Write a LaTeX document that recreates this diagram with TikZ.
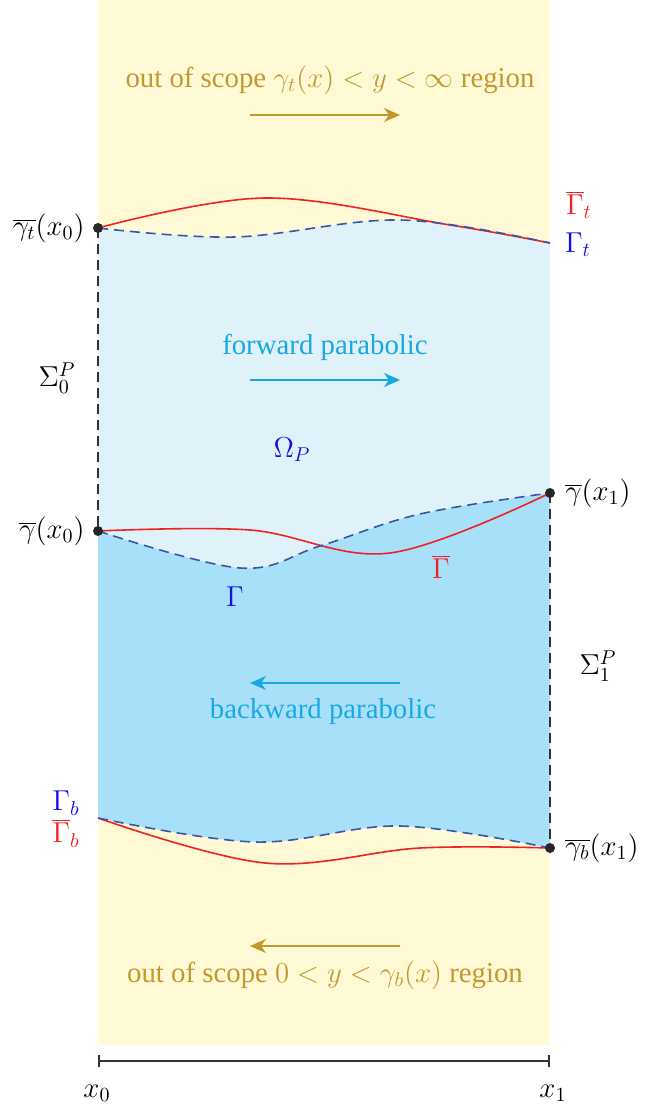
\documentclass[tikz,border=0pt]{standalone}
\usepackage{xcolor}
\usepackage{fontspec}
\setmainfont{Liberation Serif}
\usepackage{tikz}
\usetikzlibrary{arrows.meta}

\definecolor{scopeyellow}{HTML}{FFF9D5}
\definecolor{scopegold}{HTML}{C09A2C}
\definecolor{fwdblue}{HTML}{DFF2FA}
\definecolor{bwdblue}{HTML}{A8E0F9}
\definecolor{flowcyan}{HTML}{1AA8E3}
\definecolor{curveblue}{HTML}{3A55A5}
\definecolor{labelblue}{HTML}{1010EE}
\definecolor{curvered}{HTML}{EE2222}

\begin{document}
\begin{tikzpicture}[
        x=0.5pt, y=-0.5pt,
        font=\fontsize{14.4}{17}\selectfont,
        every node/.style={inner sep=1pt},
        dot/.style={circle, fill=black!85, inner sep=0pt, minimum size=5pt},
        bound/.style={dashed, thick, curveblue, dash pattern=on 5pt off 3pt},
        truebound/.style={thick, curvered},
        side/.style={dashed, thick, black!80, dash pattern=on 5pt off 3pt},
        flow/.style={-{Stealth[length=8pt, width=7pt, inset=2.5pt]}, thick},
    ]

        % background and bounding box
        \useasboundingbox (0,0) rectangle (648,1111);
        \fill[scopeyellow] (98,0) rectangle (550,1045);

        % end points of the boundary curves
        \coordinate (gtx0) at (98,228);
        \coordinate (gtx1) at (550,243);
        \coordinate (gx0) at (98,531);
        \coordinate (gx1) at (550,493);
        \coordinate (gbx0) at (98,818);
        \coordinate (gbx1) at (550,848);

        % regions
        \fill[fwdblue] plot[smooth, tension=0.6] coordinates {(gtx0) (235,237) (400,220) (gtx1)}
            -- (gx1) -- plot[smooth, tension=0.6] coordinates {(gx1) (420,514) (320,546) (240,568) (gx0)} -- cycle;
        \fill[bwdblue] plot[smooth, tension=0.6] coordinates {(gx0) (240,568) (320,546) (420,514) (gx1)}
            -- (gbx1) -- plot[smooth, tension=0.6] coordinates {(gbx1) (400,826) (255,842) (gbx0)} -- cycle;

        % curves
        \draw[truebound] plot[smooth, tension=0.6] coordinates {(gtx0) (265,198) (450,225) (gtx1)};
        \draw[bound] plot[smooth, tension=0.6] coordinates {(gtx0) (235,237) (400,220) (gtx1)};

        \draw[truebound] plot[smooth, tension=0.6] coordinates {(gx0) (250,530) (390,553) (gx1)};
        \draw[bound] plot[smooth, tension=0.6] coordinates {(gx0) (240,568) (320,546) (420,514) (gx1)};

        \draw[truebound] plot[smooth, tension=0.6] coordinates {(gbx0) (265,863) (420,848) (gbx1)};
        \draw[bound] plot[smooth, tension=0.6] coordinates {(gbx0) (255,842) (400,826) (gbx1)};

        \draw[side] (gtx0) -- (gx0);
        \draw[side] (gx1) -- (gbx1);

        \node[dot] at (gtx0) {};
        \node[dot] at (gx0) {};
        \node[dot] at (gx1) {};
        \node[dot] at (gbx1) {};

        % texts in the regions
        \node[scopegold] (TopScope) at (330,80) {out of scope $\gamma_t(x) < y < \infty$ region};
        \coordinate (TopA) at (250,115);
        \coordinate (TopB) at (400,115);
        \draw[flow, scopegold] (TopA) -- (TopB);

        \node[flowcyan] (Fwd) at (325,347) {forward parabolic};
        \coordinate (FwdA) at (250,380);
        \coordinate (FwdB) at (400,380);
        \draw[flow, flowcyan] (FwdA) -- (FwdB);

        \node[labelblue] (Omega) at (292,450) {$\Omega_P$};

        \coordinate (BwdA) at (400,683);
        \coordinate (BwdB) at (250,683);
        \draw[flow, flowcyan] (BwdA) -- (BwdB);
        \node[flowcyan] (Bwd) at (323,712) {backward parabolic};

        \coordinate (BotA) at (400,946);
        \coordinate (BotB) at (250,946);
        \draw[flow, scopegold] (BotA) -- (BotB);
        \node[scopegold] (BotScope) at (325,975) {out of scope $0 < y < \gamma_b(x)$ region};

        % labels
        \node[anchor=east] (Lgtx0) at (87,228) {$\overline{\gamma_t}(x_0)$};
        \node (Sig0) at (57,378) {$\Sigma_0^P$};
        \node[anchor=east] (Lgx0) at (87,531) {$\overline{\gamma}(x_0)$};
        \node[anchor=west] (Lgx1) at (563,493) {$\overline{\gamma}(x_1)$};
        \node (Sig1) at (598,666) {$\Sigma_1^P$};
        \node[anchor=west] (Lgbx1) at (563,848) {$\overline{\gamma_b}(x_1)$};

        \node[curvered] (BarGt) at (579,205) {$\overline{\Gamma}_t$};
        \node[labelblue] (Gt) at (578,245) {$\Gamma_t$};
        \node[labelblue] (G) at (235,597) {$\Gamma$};
        \node[curvered] (BarG) at (441,567) {$\overline{\Gamma}$};
        \node[labelblue] (Gb) at (66,803) {$\Gamma_b$};
        \node[curvered] (BarGb) at (66,833) {$\overline{\Gamma}_b$};

        % x axis
        \coordinate (ax0) at (98,1061);
        \coordinate (ax1) at (550,1061);
        \draw[thick, black!80, |-|] (ax0) -- (ax1);
        \node (X0) at (97,1093) {$x_0$};
        \node (X1) at (553,1093) {$x_1$};

    \end{tikzpicture}
\end{document}
